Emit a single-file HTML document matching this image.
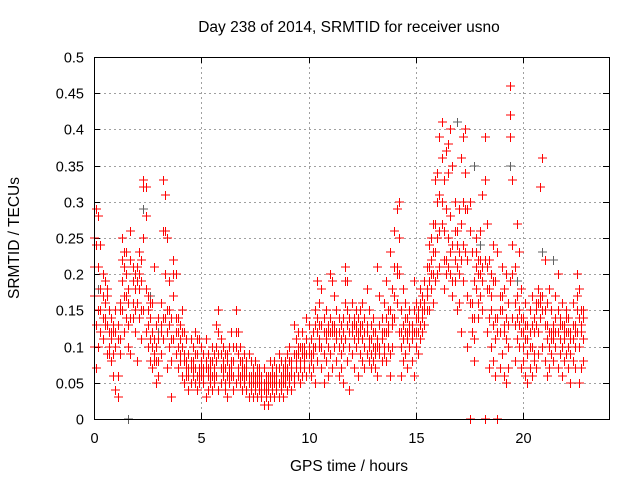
<!DOCTYPE html>
<html><head><meta charset="utf-8"><style>
html,body{margin:0;padding:0;background:#fff}
svg{display:block;font-family:"Liberation Sans",sans-serif}
</style></head><body>
<svg id="chart" width="640" height="480" viewBox="0 0 640 480" xmlns="http://www.w3.org/2000/svg">
<text x="349" y="32" font-size="15.5" text-anchor="middle" fill="#000">Day 238 of 2014, SRMTID for receiver usno</text>
<text x="349" y="471" font-size="15.5" text-anchor="middle" fill="#000">GPS time / hours</text>
<text transform="translate(19,238) rotate(-90)" font-size="15.5" text-anchor="middle" fill="#000">SRMTID / TECUs</text>
<g id="grid"></g>
<g id="axes"></g>
<g id="gray"></g>
<g id="red"></g>
<rect x="94.5" y="57.5" width="515" height="362" fill="none" stroke="#000" stroke-width="1"/>
</svg>
<script>
const xTicks=[0,5,10,15,20];
const yTicks=[0,0.05,0.1,0.15,0.2,0.25,0.3,0.35,0.4,0.45,0.5];
const yTickLabels=["0","0.05","0.1","0.15","0.2","0.25","0.3","0.35","0.4","0.45","0.5"];
const redTimes=[0.0,0.1,0.2,0.3,0.4,0.5,0.6,0.7,0.8,0.9,1.0,1.1,1.2,1.3,1.4,1.5,1.6,1.7,1.8,1.9,2.0,2.1,2.2,2.3,2.4,2.5,2.6,2.7,2.8,2.9,3.0,3.1,3.2,3.3,3.4,3.5,3.6,3.7,3.8,3.9,4.0,4.1,4.2,4.3,4.4,4.5,4.6,4.7,4.8,4.9,5.0,5.1,5.2,5.3,5.4,5.5,5.6,5.7,5.8,5.9,6.0,6.1,6.2,6.3,6.4,6.5,6.6,6.7,6.8,6.9,7.0,7.1,7.2,7.3,7.4,7.5,7.6,7.7,7.8,7.9,8.0,8.1,8.2,8.3,8.4,8.5,8.6,8.7,8.8,8.9,9.0,9.1,9.2,9.3,9.4,9.5,9.6,9.7,9.8,9.9,10.0,10.1,10.2,10.3,10.4,10.5,10.6,10.7,10.8,10.9,11.0,11.1,11.2,11.3,11.4,11.5,11.6,11.7,11.8,11.9,12.0,12.1,12.2,12.3,12.4,12.5,12.6,12.7,12.8,12.9,13.0,13.1,13.2,13.3,13.4,13.5,13.6,13.7,13.8,13.9,14.0,14.1,14.2,14.3,14.4,14.5,14.6,14.7,14.8,14.9,15.0,15.1,15.2,15.3,15.4,15.5,15.6,15.7,15.8,15.9,16.0,16.1,16.2,16.3,16.4,16.5,16.6,16.7,16.8,16.9,17.0,17.1,17.2,17.3,17.4,17.5,17.6,17.7,17.8,17.9,18.0,18.1,18.2,18.3,18.4,18.5,18.6,18.7,18.8,18.9,19.0,19.1,19.2,19.3,19.4,19.5,19.6,19.7,19.8,19.9,20.0,20.1,20.2,20.3,20.4,20.5,20.6,20.7,20.8,20.9,21.0,21.1,21.2,21.3,21.4,21.5,21.6,21.7,21.8,21.9,22.0,22.1,22.2,22.3,22.4,22.5,22.6,22.7,22.8];
const redValues=[
[.25,.17,.10,.21],[.29,.13,.07,.24],[.21,.15,.10,.28],[.24,.12,.18,.15],[.14,.20,.11,.17],[.19,.16,.14,.13],[.17,.13,.09,.18],[.10,.12,.15,.09],[.08,.14,.11,.12],[.12,.09,.06,.13],
[.04,.10,.15,.12],[.03,.13,.06,.11],[.16,.09,.11,.15],[.25,.19,.15,.22],[.23,.12,.21,.17],[.14,.20,.17,.23],[.10,.18,.13,.16],[.26,.22,.09,.14],[.14,.19,.16,.21],[.20,.12,.15,.18],
[.16,.21,.08,.19],[.23,.14,.18,.20],[.19,.11,.22,.15],[.33,.25,.15,.32],[.32,.28,.12,.18],[.17,.13,.10,.15],[.14,.11,.08,.16],[.12,.16,.07,.10],[.21,.09,.11,.08],[.10,.05,.13,.08],
[.08,.14,.06,.11],[.12,.16,.09,.13],[.33,.26,.11,.14],[.31,.20,.14,.26],[.25,.15,.07,.12],[.19,.10,.13,.15],[.03,.14,.08,.11],[.22,.11,.17,.20],[.20,.09,.12,.14],[.10,.14,.07,.12],
[.13,.08,.11,.09],[.15,.06,.10,.12],[.12,.09,.05,.08],[.07,.11,.08,.06],[.06,.09,.04,.07],[.11,.07,.05,.08],[.08,.06,.10,.07],[.12,.05,.07,.09],[.09,.04,.06,.11],[.11,.07,.05,.06],
[.08,.06,.10,.07],[.05,.09,.07,.06],[.03,.07,.11,.08],[.06,.09,.04,.07],[.08,.05,.07,.06],[.10,.06,.04,.08],[.07,.09,.05,.06],[.13,.06,.08,.10],[.15,.09,.04,.12],[.11,.07,.05,.09],
[.08,.06,.10,.07],[.05,.07,.04,.09],[.09,.03,.06,.08],[.07,.10,.05,.06],[.12,.06,.08,.07],[.08,.04,.06,.10],[.15,.10,.05,.12],[.12,.07,.09,.06],[.10,.05,.06,.08],[.08,.04,.07,.06],
[.06,.09,.05,.07],[.07,.04,.06,.08],[.09,.05,.03,.06],[.06,.08,.04,.05],[.05,.07,.03,.06],[.08,.04,.06,.05],[.05,.03,.07,.06],[.06,.04,.05,.07],[.03,.06,.05,.04],[.07,.04,.02,.05],
[.05,.03,.06,.04],[.04,.06,.02,.05],[.08,.05,.03,.06],[.06,.04,.07,.05],[.05,.03,.08,.06],[.07,.04,.06,.05],[.09,.05,.03,.07],[.06,.08,.04,.05],[.05,.07,.03,.06],[.08,.05,.06,.07],
[.07,.04,.09,.06],[.10,.06,.05,.08],[.08,.04,.07,.06],[.13,.06,.05,.09],[.11,.08,.07,.09],[.12,.09,.06,.10],[.10,.07,.05,.08],[.09,.12,.06,.10],[.08,.07,.10,.09],[.14,.09,.06,.11],
[.13,.07,.10,.09],[.08,.11,.06,.09],[.12,.09,.07,.10],[.15,.10,.05,.13],[.19,.12,.08,.14],[.16,.10,.13,.11],[.13,.07,.18,.10],[.09,.12,.05,.14],[.15,.11,.08,.12],[.13,.06,.10,.12],
[.20,.14,.09,.12],[.19,.12,.07,.13],[.17,.10,.13,.12],[.11,.08,.15,.12],[.14,.06,.12,.10],[.09,.13,.07,.11],[.12,.10,.05,.14],[.21,.16,.11,.19],[.19,.13,.08,.15],[.14,.10,.04,.12],
[.12,.16,.09,.13],[.13,.07,.11,.14],[.15,.10,.12,.13],[.11,.14,.06,.12],[.13,.09,.12,.15],[.16,.11,.08,.13],[.14,.10,.07,.12],[.18,.12,.09,.13],[.11,.08,.15,.10],[.13,.09,.07,.11],
[.10,.14,.08,.12],[.07,.12,.09,.10],[.21,.11,.06,.10],[.17,.10,.13,.09],[.12,.08,.14,.11],[.10,.16,.09,.12],[.14,.19,.08,.12],[.15,.12,.10,.13],[.23,.09,.06,.15],[.18,.13,.10,.14],
[.26,.21,.14,.17],[.29,.21,.16,.20],[.30,.25,.12,.20],[.15,.10,.06,.12],[.18,.13,.08,.11],[.12,.16,.09,.14],[.14,.11,.07,.12],[.10,.15,.12,.13],[.13,.08,.11,.12],[.19,.12,.06,.15],
[.16,.10,.14,.12],[.15,.12,.09,.14],[.18,.13,.11,.16],[.17,.14,.12,.15],[.19,.16,.13,.15],[.17,.21,.15,.18],[.24,.19,.15,.21],[.25,.22,.18,.20],[.27,.20,.16,.23],[.33,.23,.19,.27],
[.34,.30,.25,.20],[.39,.31,.21,.26],[.41,.36,.27,.30],[.33,.26,.18,.22],[.37,.29,.22,.20],[.38,.34,.25,.21],[.40,.28,.20,.23],[.35,.24,.17,.19],[.30,.22,.19,.26],[.26,.21,.15,.24],
[.29,.23,.16,.20],[.36,.27,.12,.22],[.39,.30,.24,.19],[.40,.34,.29,.23],[.29,.17,.10,.22],[.30,.26,.00,.16],[.23,.16,.12,.14],[.19,.11,.08,.14],[.25,.18,.21,.23],[.22,.16,.14,.20],
[.26,.20,.17,.22],[.31,.21,.15,.19],[.39,.33,.00,.22],[.27,.18,.12,.21],[.22,.14,.07,.18],[.20,.15,.10,.17],[.24,.13,.08,.19],[.19,.11,.06,.14],[.23,.14,.00,.12],[.17,.12,.07,.15],
[.21,.15,.09,.17],[.18,.13,.06,.12],[.20,.11,.05,.14],[.16,.10,.07,.13],[.46,.42,.39,.19],[.33,.24,.14,.20],[.21,.13,.08,.16],[.27,.17,.11,.14],[.23,.15,.10,.13],[.18,.12,.07,.14],
[.14,.10,.08,.12],[.16,.11,.06,.13],[.13,.09,.05,.11],[.15,.12,.07,.10],[.17,.10,.06,.13],[.14,.09,.08,.12],[.16,.13,.07,.15],[.18,.12,.09,.16],[.32,.16,.14,.17],[.36,.17,.10,.15],
[.22,.13,.08,.15],[.16,.11,.06,.13],[.18,.10,.07,.12],[.15,.12,.09,.11],[.13,.11,.08,.12],[.17,.10,.14,.12],[.20,.12,.07,.15],[.14,.09,.11,.13],[.16,.10,.06,.13],[.13,.08,.11,.12],
[.15,.12,.09,.14],[.14,.07,.10,.12],[.12,.09,.05,.11],[.16,.11,.08,.13],[.13,.10,.07,.12],[.20,.15,.12,.17],[.18,.10,.05,.14],[.15,.13,.07,.12],[.14,.11,.08,.15]];
const grayTimes=[1.6,2.3,2.6,6.6,11.9,16.9,17.7,19.4,19.7,20.9,21.4,0.2,3.0,8.2,12.6,18.0];
const grayValues=[0.0,0.29,0.17,0.15,0.04,0.41,0.35,0.35,0.19,0.23,0.22,0.18,0.12,0.06,0.14,0.24];

const NS="http://www.w3.org/2000/svg";
const X0=94,X1=609,Y0=419,Y1=57,XMAX=24,YMAX=0.5;
function xs(t){return X0+(t/XMAX)*(X1-X0);}
function ys(v){return Y0-(v/YMAX)*(Y0-Y1);}
const grid=document.getElementById('grid'),axes=document.getElementById('axes');
function mk(tag,attrs,parent){const e=document.createElementNS(NS,tag);for(const k in attrs)e.setAttribute(k,attrs[k]);parent.appendChild(e);return e;}
yTicks.forEach((v,i)=>{
  const y=Math.round(ys(v))+0.5;
  if(i>0&&i<yTicks.length-1){const g=mk('line',{x1:X0,x2:X1,y1:y,y2:y,stroke:'#a0a0a0','stroke-dasharray':'2,3','shape-rendering':'crispEdges'},grid);
  
  }
  const t1=mk('line',{x1:X0,x2:X0+6,y1:y,y2:y,stroke:'#000'},axes);
  
  
  const t2=mk('line',{x1:X1-6,x2:X1,y1:y,y2:y,stroke:'#000'},axes);
  
  
  const l=mk('text',{x:84,y:y+5,'font-size':14.5,'text-anchor':'end',fill:'#000'},axes);
  l.textContent=yTickLabels[i];
  
  
});
xTicks.forEach(t=>{
  const x=Math.round(xs(t))+0.5;
  if(t>0){const g=mk('line',{x1:x,x2:x,y1:Y1,y2:Y0,stroke:'#a0a0a0','stroke-dasharray':'2,3','shape-rendering':'crispEdges'},grid);
  
  }
  const t1=mk('line',{x1:x,x2:x,y1:Y0-6,y2:Y0,stroke:'#000'},axes);
  
  
  const t2=mk('line',{x1:x,x2:x,y1:Y1,y2:Y1+6,stroke:'#000'},axes);
  
  
  const l=mk('text',{x:x,y:443,'font-size':14.5,'text-anchor':'middle',fill:'#000'},axes);
  l.textContent=String(t);
  
  
});
function plus(x,y){return 'M'+(x-4)+' '+y+'h9M'+(x+0.5)+' '+(y-4)+'v9';}
let gd='';
grayTimes.forEach((t,i)=>{gd+=plus(Math.round(xs(t)),Math.round(ys(grayValues[i])));});
const gp=mk('path',{d:gd,stroke:'#606060','stroke-width':1,fill:'none','shape-rendering':'crispEdges'},document.getElementById('gray'));


let rd='';
redTimes.forEach((t,i)=>{redValues[i].forEach(v=>{rd+=plus(Math.round(xs(t)),Math.round(ys(v)));});});
const rp=mk('path',{d:rd,stroke:'#ff0000','stroke-width':1.4,fill:'none','shape-rendering':'crispEdges'},document.getElementById('red'));


</script>
</body></html>
